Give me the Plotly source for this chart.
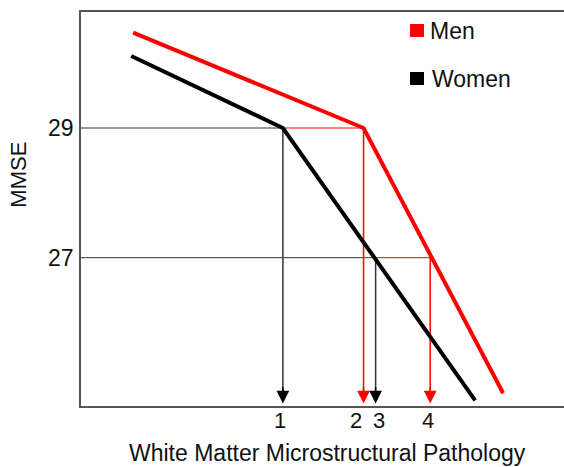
import plotly.graph_objects as go

# ---------------- data ----------------
series_names = ["Men", "Women"]
series_colors = ["#ff0000", "#000000"]

men_x = [1.08, 5.85, 8.74]
men_y = [30.47, 29.0, 24.91]
women_x = [1.04, 4.18, 8.16]
women_y = [30.11, 29.0, 24.80]

mmse_levels = [29, 27]
# x where each group reaches the MMSE level (women, men)
women_cross = [4.18, 6.10]
men_cross = [5.85, 7.23]

tick_labels = ["1", "2", "3", "4"]
tick_pos = [4.13, 5.69, 6.17, 7.19]

x_range = [0, 10]
y_range = [24.713, 30.789]
arrow_tip = 24.75

# ---------------- layout geometry ----------------
W, H = 564, 467
ML, MR, MT, MB = 81, 0, 12, 61
PW, PH = W - ML - MR, H - MT - MB


def px_x(p):
    return (p - ML) / PW


def px_y(p):
    return (H - MB - p) / PH


FONT = "Liberation Sans, Arial, sans-serif"
TXT = "#111111"
THIN_GRAY = "#333333"

fig = go.Figure()

# horizontal guide lines at MMSE levels
for lvl, wx, mx in zip(mmse_levels, women_cross, men_cross):
    fig.add_trace(go.Scatter(x=[x_range[0], wx], y=[lvl, lvl], mode="lines",
                             line=dict(color=THIN_GRAY, width=1), showlegend=False, hoverinfo="skip"))
    fig.add_trace(go.Scatter(x=[wx, mx], y=[lvl, lvl], mode="lines",
                             line=dict(color=series_colors[0], width=1), showlegend=False, hoverinfo="skip"))

# vertical drop lines
drops = []
for lvl, wx, mx in zip(mmse_levels, women_cross, men_cross):
    drops.append((wx, lvl, series_colors[1]))
    drops.append((mx, lvl, series_colors[0]))
for x0, lvl, col in drops:
    fig.add_trace(go.Scatter(x=[x0, x0], y=[lvl, arrow_tip + 0.1], mode="lines",
                             line=dict(color=col if col != "#000000" else THIN_GRAY, width=1.5),
                             showlegend=False, hoverinfo="skip"))

# main lines
fig.add_trace(go.Scatter(x=women_x, y=women_y, mode="lines", name=series_names[1],
                         line=dict(color=series_colors[1], width=4), showlegend=False))
fig.add_trace(go.Scatter(x=men_x, y=men_y, mode="lines", name=series_names[0],
                         line=dict(color=series_colors[0], width=4), showlegend=False))

annotations = []
for x0, lvl, col in drops:
    annotations.append(dict(x=x0, y=arrow_tip, xref="x", yref="y", ax=0, ay=-18,
                            text="", showarrow=True, arrowhead=2, arrowsize=1.7,
                            arrowwidth=1.5, arrowcolor=col, standoff=0))

# x tick labels (placed at their tick positions on the x scale)
for tv, tl in zip(tick_pos, tick_labels):
    annotations.append(dict(text=tl, x=tv, y=px_y(420), xref="x", yref="paper",
                            showarrow=False, xanchor="center", yanchor="middle",
                            font=dict(family=FONT, size=22, color=TXT)))

# axis titles
annotations.append(dict(text="White Matter Microstructural Pathology", x=px_x(327.5), y=px_y(453),
                        xref="paper", yref="paper", showarrow=False,
                        font=dict(family=FONT, size=23, color=TXT),
                        xanchor="center", yanchor="middle"))
annotations.append(dict(text="MMSE", x=px_x(18.7), y=px_y(175), xref="paper", yref="paper",
                        showarrow=False, textangle=-90,
                        font=dict(family=FONT, size=22, color=TXT),
                        xanchor="center", yanchor="middle"))

# manual legend
shapes = []
leg_rows = [(24, 37, 428, 31), (72, 85, 430, 79)]
for (y0, y1, tx, ty), name, col in zip(leg_rows, series_names, series_colors):
    shapes.append(dict(type="rect", xref="paper", yref="paper",
                       x0=px_x(410), x1=px_x(424), y0=px_y(y1), y1=px_y(y0),
                       fillcolor=col, line=dict(width=0)))
    annotations.append(dict(text=name, x=px_x(tx), y=px_y(ty), xref="paper", yref="paper",
                            showarrow=False, xanchor="left", yanchor="middle",
                            font=dict(family=FONT, size=23, color=TXT)))

fig.update_layout(
    width=W, height=H,
    margin=dict(l=ML, r=MR, t=MT, b=MB),
    paper_bgcolor="white", plot_bgcolor="white",
    showlegend=False,
    annotations=annotations,
    shapes=shapes,
    xaxis=dict(range=x_range, showgrid=False, zeroline=False, showline=True, mirror=True,
               linecolor="#555555", linewidth=1.5, showticklabels=False, ticks="",
               automargin=False),
    yaxis=dict(range=y_range, showgrid=False, zeroline=False, showline=True, mirror=False,
               linecolor="#555555", linewidth=1.5, tickmode="array", tickvals=mmse_levels,
               ticktext=[str(v) for v in mmse_levels], ticks="", ticklabelstandoff=1,
               automargin=False,
               tickfont=dict(family=FONT, size=23, color=TXT)),
)

fig.write_html("out.html", config={"displayModeBar": False},
               post_script="document.body.style.margin='0';document.body.style.padding='0';")
